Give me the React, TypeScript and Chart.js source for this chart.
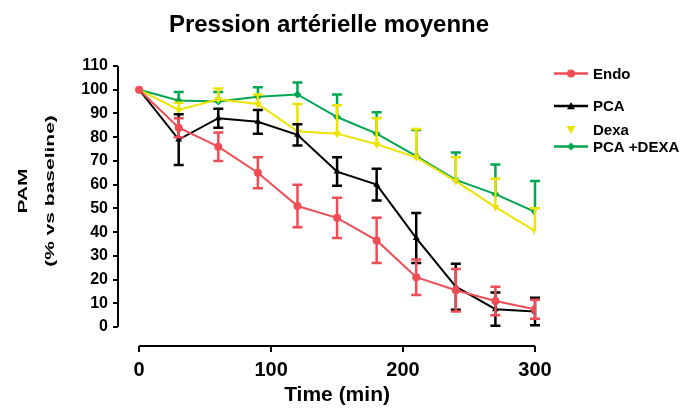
import React, { useEffect, useRef } from 'react';
import { Chart, registerables } from 'chart.js';

Chart.register(...registerables);

// ---- data ----
const times = [0, 30, 60, 90, 120, 150, 180, 210, 240, 270, 300];

const endoValues = [100, 84, 76, 65, 51, 46, 36.5, 21, 15.5, 11, 7.5];
const endoErrors = [0, 4, 6, 6.5, 9, 8.5, 9.5, 7.5, 9, 6, 4];

const pcaValues = [100, 79, 88, 86.5, 81, 65.5, 60, 37.5, 17, 7.5, 6.5];
const pcaErrors = [0, 10.7, 4, 5, 4.5, 6, 6.7, 10.5, 9.7, 7, 5.8];

const dexaValues = [100, 91.5, 96, 94, 82.5, 81.5, 77, 71.5, 61.5, 50.5, 40.5];
const dexaErrors = [0, 3, 4.5, 4, 11.5, 12, 11, 12, 10, 12, 9.5];

const pcaDexaValues = [100, 95.5, 95, 97, 98, 88.5, 81.5, 72, 62, 56, 48.5];
const pcaDexaErrors = [0, 3.5, 4, 4, 5, 9.5, 9, 11, 11.5, 12.5, 13];

const seriesLabels = ['Endo', 'PCA', 'Dexa', 'PCA +DEXA'];
const yTickValues = [0, 10, 20, 30, 40, 50, 60, 70, 80, 90, 100, 110];
const xTickValues = [0, 100, 200, 300];

const chartTitle = 'Pression artérielle moyenne';
const xAxisTitle = 'Time (min)';
const yAxisTitle = ['PAM', '(% vs baseline)'];

const FONT = '"Liberation Sans", Arial, Helvetica, sans-serif';

type Series = {
  label: string;
  values: number[];
  errors: number[];
  color: string;
  shape: 'circle' | 'triangle' | 'triangleDown' | 'diamond';
  radius: number;
  both: boolean;
  legendLine: boolean;
};

const series: Series[] = [
  { label: seriesLabels[0], values: endoValues, errors: endoErrors, color: '#EF4D56', shape: 'circle', radius: 4, both: true, legendLine: true },
  { label: seriesLabels[1], values: pcaValues, errors: pcaErrors, color: '#000000', shape: 'triangle', radius: 4, both: true, legendLine: true },
  { label: seriesLabels[2], values: dexaValues, errors: dexaErrors, color: '#EDE300', shape: 'triangleDown', radius: 4.5, both: false, legendLine: false },
  { label: seriesLabels[3], values: pcaDexaValues, errors: pcaDexaErrors, color: '#00A651', shape: 'diamond', radius: 4, both: false, legendLine: true },
];

function drawMarker(ctx: CanvasRenderingContext2D, shape: string, x: number, y: number, r: number, color: string) {
  ctx.save();
  ctx.fillStyle = color;
  ctx.beginPath();
  if (shape === 'circle') {
    ctx.arc(x, y, r, 0, Math.PI * 2);
  } else if (shape === 'triangle') {
    ctx.moveTo(x, y - r);
    ctx.lineTo(x + r, y + r * 0.8);
    ctx.lineTo(x - r, y + r * 0.8);
    ctx.closePath();
  } else if (shape === 'triangleDown') {
    ctx.moveTo(x, y + r);
    ctx.lineTo(x + r, y - r * 0.8);
    ctx.lineTo(x - r, y - r * 0.8);
    ctx.closePath();
  } else {
    ctx.moveTo(x, y - r);
    ctx.lineTo(x + r, y);
    ctx.lineTo(x, y + r);
    ctx.lineTo(x - r, y);
    ctx.closePath();
  }
  ctx.fill();
  ctx.restore();
}

const errorBarPlugin = {
  id: 'errorBars',
  afterDatasetDraw(chart: any, args: any) {
    const s = series[args.index];
    if (!s) return;
    const { ctx } = chart;
    const xs = chart.scales.x;
    const ys = chart.scales.y;
    ctx.save();
    ctx.strokeStyle = s.color;
    ctx.lineWidth = 2.5;
    times.forEach((t, i) => {
      const e = s.errors[i];
      if (!e) return;
      const px = xs.getPixelForValue(t);
      const top = ys.getPixelForValue(s.values[i] + e);
      const bot = s.both ? ys.getPixelForValue(s.values[i] - e) : ys.getPixelForValue(s.values[i]);
      ctx.beginPath();
      ctx.moveTo(px, top);
      ctx.lineTo(px, bot);
      ctx.moveTo(px - 5, top);
      ctx.lineTo(px + 5, top);
      if (s.both) {
        ctx.moveTo(px - 5, bot);
        ctx.lineTo(px + 5, bot);
      }
      ctx.stroke();
    });
    ctx.restore();
  },
};

const decorPlugin = {
  id: 'decor',
  afterDraw(chart: any) {
    const { ctx, chartArea } = chart;
    const xs = chart.scales.x;
    const ys = chart.scales.y;
    ctx.save();
    // axis lines (detached)
    ctx.strokeStyle = '#000';
    ctx.lineWidth = 2;
    ctx.beginPath();
    ctx.moveTo(chartArea.left, ys.getPixelForValue(yTickValues[0]));
    ctx.lineTo(chartArea.left, ys.getPixelForValue(yTickValues[yTickValues.length - 1]));
    ctx.moveTo(xs.getPixelForValue(xTickValues[0]), chartArea.bottom);
    ctx.lineTo(xs.getPixelForValue(xTickValues[xTickValues.length - 1]), chartArea.bottom);
    ctx.stroke();

    ctx.fillStyle = '#000';
    ctx.textAlign = 'center';
    ctx.textBaseline = 'middle';
    // main title
    ctx.font = `bold 24px ${FONT}`;
    ctx.fillText(chartTitle, 329, 25);
    // x title
    ctx.font = `bold 21px ${FONT}`;
    ctx.fillText(xAxisTitle, (xs.getPixelForValue(0) + xs.getPixelForValue(300)) / 2, 395);
    // y title (rotated, squashed)
    const yCenter = 191;
    const lineXs = [23, 50];
    yAxisTitle.forEach((line, i) => {
      ctx.save();
      ctx.translate(lineXs[i], yCenter);
      ctx.rotate(-Math.PI / 2);
      ctx.scale(1, 0.62);
      ctx.font = `bold 21px ${FONT}`;
      ctx.fillText(line, 0, 0);
      ctx.restore();
    });

    // legend
    const rows = [73.5, 106, 129.5, 146.5];
    ctx.font = `bold 15px ${FONT}`;
    ctx.textAlign = 'left';
    series.forEach((s, i) => {
      const y = rows[i];
      if (s.legendLine) {
        ctx.strokeStyle = s.color;
        ctx.lineWidth = 2.5;
        ctx.beginPath();
        ctx.moveTo(554, y);
        ctx.lineTo(588, y);
        ctx.stroke();
      }
      drawMarker(ctx, s.shape, 571, y, s.radius, s.color);
      ctx.fillStyle = '#000';
      ctx.fillText(s.label, 593, y + 1);
    });
    ctx.restore();
  },
};

export default function App() {
  const canvasRef = useRef<HTMLCanvasElement | null>(null);

  useEffect(() => {
    if (!canvasRef.current) return;
    const chart = new Chart(canvasRef.current, {
      type: 'line',
      data: {
        datasets: series.map((s) => ({
          label: s.label,
          data: times.map((t, i) => ({ x: t, y: s.values[i] })),
          borderColor: s.color,
          backgroundColor: s.color,
          borderWidth: 2,
          tension: 0,
          pointStyle: s.shape === 'circle' ? 'circle' : s.shape === 'diamond' ? 'rectRot' : 'triangle',
          rotation: s.shape === 'triangleDown' ? 180 : 0,
          pointRadius: s.radius,
          pointBorderWidth: 0,
          pointHoverRadius: s.radius,
        })),
      },
      options: {
        animation: false,
        responsive: true,
        maintainAspectRatio: false,
        devicePixelRatio: 1,
        layout: { padding: { top: 66, right: 161, bottom: 0, left: 0 } },
        plugins: {
          legend: { display: false },
          title: { display: false },
          tooltip: { enabled: false },
        },
        scales: {
          x: {
            type: 'linear',
            min: -16,
            max: 300,
            afterBuildTicks: (scale: any) => {
              scale.ticks = xTickValues.map((v) => ({ value: v }));
            },
            afterFit: (scale: any) => {
              scale.height = 63;
            },
            border: { display: false },
            grid: {
              drawOnChartArea: false,
              drawTicks: true,
              tickLength: 6,
              color: '#000',
              lineWidth: 2,
            },
            ticks: {
              color: '#000',
              font: { family: FONT, size: 20, weight: 'bold' },
              padding: 6,
              maxRotation: 0,
              autoSkip: false,
            },
          },
          y: {
            type: 'linear',
            min: -8,
            max: 110,
            afterBuildTicks: (scale: any) => {
              scale.ticks = yTickValues.map((v) => ({ value: v }));
            },
            afterFit: (scale: any) => {
              scale.width = 118;
            },
            border: { display: false },
            grid: {
              drawOnChartArea: false,
              drawTicks: true,
              tickLength: 5,
              color: '#000',
              lineWidth: 2,
            },
            ticks: {
              color: '#000',
              font: { family: FONT, size: 16, weight: 'bold' },
              padding: 5,
              autoSkip: false,
            },
          },
        },
      },
      plugins: [errorBarPlugin, decorPlugin],
    } as any);
    return () => chart.destroy();
  }, []);

  return (
    <div style={{ position: 'absolute', left: 0, top: 0, width: 696, height: 409 }}>
      <canvas ref={canvasRef} />
    </div>
  );
}
